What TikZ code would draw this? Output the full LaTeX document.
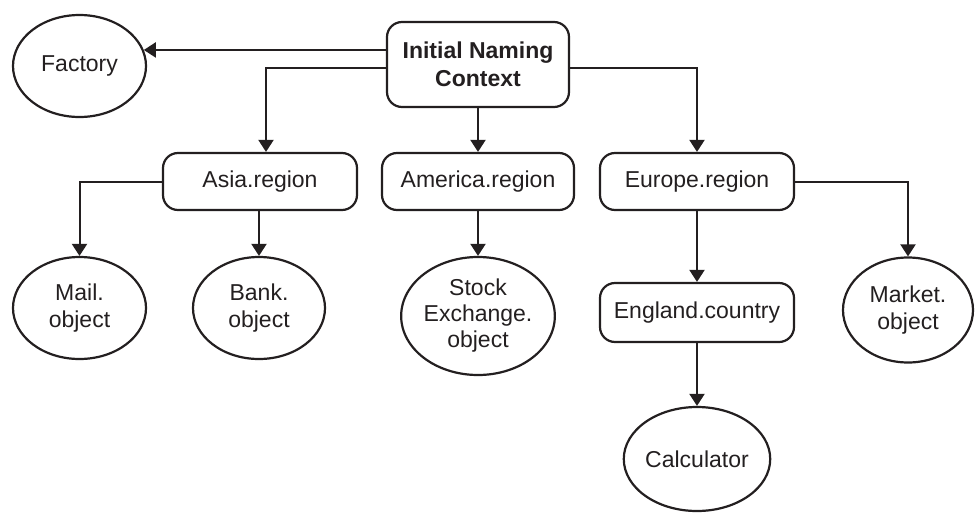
\documentclass[tikz,border=0pt]{standalone}
\usepackage{fontspec}
\setmainfont{Liberation Sans}
\usetikzlibrary{shapes.geometric,arrows.meta}
\definecolor{ink}{HTML}{231F20}
\begin{document}
\begin{tikzpicture}[x=1pt,y=-1pt,
  every node/.style={text=ink,font=\fontsize{23}{27}\selectfont,align=center,inner sep=0pt},
  ctxbox/.style={draw=ink,line width=2.2pt,rounded corners=15pt,minimum width=194pt,minimum height=57pt},
  objell/.style={draw=ink,line width=2.2pt,ellipse,minimum width=133pt,minimum height=102pt},
  arr/.style={draw=ink,line width=2pt,-{Triangle[length=12pt,width=15pt]}}]
\useasboundingbox (0,0) rectangle (975,512);

% naming contexts
\node[ctxbox,minimum width=182pt,minimum height=85pt,
      font=\bfseries\fontsize{23}{28}\selectfont] (init) at (478,64.5) {Initial Naming\\Context};
\node[ctxbox] (asia) at (260,181.5) {Asia.region};
\node[ctxbox,minimum width=192pt] (america) at (478,181.5) {America.region};
\node[ctxbox] (europe) at (697,181.5) {Europe.region};
\node[ctxbox,minimum height=59pt] (england) at (697,312.5) {England.country};

% bound objects
\node[objell] (factory) at (79.5,66) {Factory};
\node[objell] (mail) at (79.5,308) {Mail.\\object};
\node[objell,minimum width=132pt] (bank) at (259,308) {Bank.\\object};
\node[objell,minimum width=130pt,minimum height=118pt,font=\fontsize{23}{26}\selectfont] (stock) at (478,316) {Stock\\Exchange.\\object};
\node[objell,minimum width=130pt,minimum height=105pt] (market) at (908,310) {Market.\\object};
\node[objell,minimum height=104pt] (calc) at (697,459) {Calculator};

% bindings
\draw[arr] (init.west |- factory.14) -- (factory.14);
\draw[arr] ([yshift=-3.5pt]init.west) -| ([xshift=6pt]asia.north);
\draw[arr] (init.south) -- (america.north);
\draw[arr] ([yshift=-3.5pt]init.east) -| (europe.north);
\draw[arr] (asia.west) -| (mail.north);
\draw[arr] (asia.south -| bank.north) -- (bank.north);
\draw[arr] (america.south) -- (stock.north);
\draw[arr] (europe.south) -- (england.north);
\draw[arr] (europe.east) -| (market.north);
\draw[arr] (england.south) -- (calc.north);
\end{tikzpicture}
\end{document}
